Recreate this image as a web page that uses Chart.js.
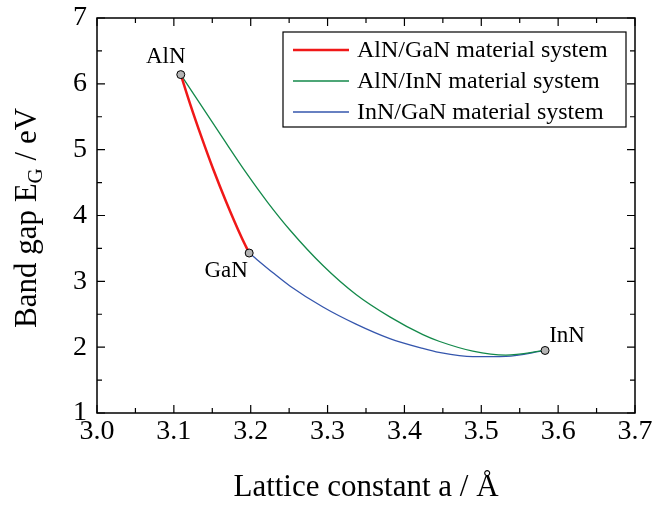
<!DOCTYPE html>
<html>
<head>
<meta charset="utf-8">
<script src="https://cdn.jsdelivr.net/npm/chart.js@4.4.1/dist/chart.umd.min.js"></script>
<style>
  body { margin: 0; background: #fff; }
  canvas { display: block; }
</style>
</head>
<body>
<canvas id="gapChart" width="656" height="507"></canvas>
<script>
// AlN/GaN branch (lattice constant, band gap)
const alGaX = [3.109, 3.121, 3.136, 3.151, 3.168, 3.188, 3.198];
const alGaY = [6.14, 5.70, 5.19, 4.71, 4.21, 3.67, 3.43];

// AlN/InN branch
const alInX = [3.109, 3.164, 3.194, 3.222, 3.251, 3.294, 3.337, 3.381, 3.424, 3.445, 3.489, 3.532, 3.583];
const alInY = [6.14, 5.17, 4.65, 4.20, 3.78, 3.24, 2.80, 2.46, 2.19, 2.09, 1.94, 1.88, 1.95];

// InN/GaN branch
const inGaX = [3.198, 3.229, 3.251, 3.294, 3.337, 3.381, 3.424, 3.445, 3.489, 3.532, 3.583];
const inGaY = [3.43, 3.13, 2.93, 2.61, 2.35, 2.13, 1.98, 1.92, 1.855, 1.86, 1.95];

// binary compounds
const binNames = ['AlN', 'GaN', 'InN'];
const binX = [3.109, 3.198, 3.583];
const binY = [6.14, 3.43, 1.95];
const binLabelDx = [-15, -23, 22];
const binLabelDy = [-18, 18, -15];

// axis ticks
const xTicks = [3.0, 3.1, 3.2, 3.3, 3.4, 3.5, 3.6, 3.7];
const yTicks = [1, 2, 3, 4, 5, 6, 7];

const serif = '"Liberation Serif", "Times New Roman", serif';
const toPoints = (xs, ys) => xs.map((x, i) => ({ x: x, y: ys[i] }));

// frame, inward ticks, legend, point labels and y title
const overlay = {
    id: 'overlay',
    afterDraw(chart) {
        const ctx = chart.ctx;
        const { left, right, top, bottom } = chart.chartArea;
        const xs = chart.scales.x;
        const ys = chart.scales.y;
        ctx.save();

        // frame
        ctx.strokeStyle = '#000';
        ctx.lineWidth = 1.5;
        ctx.strokeRect(left, top, right - left, bottom - top);

        // ticks pointing inward, on all four sides
        ctx.lineWidth = 1.2;
        ctx.beginPath();
        for (let i = 0; i <= 14; i++) {
            const px = xs.getPixelForValue(xs.min + i * 0.05);
            const len = i % 2 ? 5 : 8;
            ctx.moveTo(px, bottom); ctx.lineTo(px, bottom - len);
            ctx.moveTo(px, top); ctx.lineTo(px, top + len);
        }
        for (let i = 0; i <= 12; i++) {
            const py = ys.getPixelForValue(ys.min + i * 0.5);
            const len = i % 2 ? 5 : 8;
            ctx.moveTo(left, py); ctx.lineTo(left + len, py);
            ctx.moveTo(right, py); ctx.lineTo(right - len, py);
        }
        ctx.stroke();

        // point labels
        ctx.fillStyle = '#000';
        ctx.font = '23px ' + serif;
        ctx.textAlign = 'center';
        ctx.textBaseline = 'middle';
        binNames.forEach((name, i) => {
            const px = xs.getPixelForValue(binX[i]);
            const py = ys.getPixelForValue(binY[i]);
            ctx.fillText(name, px + binLabelDx[i], py + binLabelDy[i]);
        });

        // legend
        ctx.lineWidth = 1.2;
        ctx.strokeRect(283, 32, 343, 95);
        ctx.font = '24px ' + serif;
        ctx.textAlign = 'left';
        chart.data.datasets.filter(d => d.showLine !== false).forEach((d, i) => {
            const ly = 50 + i * 31;
            ctx.strokeStyle = d.borderColor;
            ctx.lineWidth = d.borderWidth;
            ctx.beginPath();
            ctx.moveTo(293, ly);
            ctx.lineTo(349, ly);
            ctx.stroke();
            ctx.fillText(d.label, 357, ly + 1);
        });

        // y axis title with subscript
        ctx.translate(36, 218);
        ctx.rotate(-Math.PI / 2);
        ctx.textBaseline = 'alphabetic';
        const big = '31px ' + serif;
        const small = '21px ' + serif;
        const partA = 'Band gap E';
        const partB = 'G';
        const partC = ' / eV';
        ctx.font = big;
        const wA = ctx.measureText(partA).width;
        const wC = ctx.measureText(partC).width;
        ctx.font = small;
        const wB = ctx.measureText(partB).width;
        let tx = -(wA + wB + wC) / 2;
        ctx.font = big;
        ctx.fillText(partA, tx, 0);
        tx += wA;
        ctx.font = small;
        ctx.fillText(partB, tx, 6);
        tx += wB;
        ctx.font = big;
        ctx.fillText(partC, tx, 0);

        ctx.restore();
    }
};

new Chart(document.getElementById('gapChart').getContext('2d'), {
    type: 'line',
    data: {
        datasets: [
            {
                label: 'binaries',
                data: toPoints(binX, binY),
                showLine: false,
                pointRadius: 4,
                pointBackgroundColor: '#b4b4b4',
                pointBorderColor: '#000',
                pointBorderWidth: 1,
                order: 0
            },
            {
                label: 'AlN/GaN material system',
                data: toPoints(alGaX, alGaY),
                borderColor: '#f01818',
                borderWidth: 2.5,
                pointRadius: 0,
                cubicInterpolationMode: 'monotone',
                order: 1
            },
            {
                label: 'AlN/InN material system',
                data: toPoints(alInX, alInY),
                borderColor: '#13894a',
                borderWidth: 1.3,
                pointRadius: 0,
                cubicInterpolationMode: 'monotone',
                order: 1
            },
            {
                label: 'InN/GaN material system',
                data: toPoints(inGaX, inGaY),
                borderColor: '#3556ad',
                borderWidth: 1.3,
                pointRadius: 0,
                cubicInterpolationMode: 'monotone',
                order: 1
            }
        ]
    },
    options: {
        responsive: false,
        animation: false,
        layout: { padding: { top: 18, right: 21, left: 0, bottom: 0 } },
        plugins: {
            legend: { display: false },
            tooltip: { enabled: false }
        },
        scales: {
            x: {
                type: 'linear',
                min: 3.0,
                max: 3.7,
                afterFit: s => { s.height = 94; s.paddingLeft = 0; s.paddingRight = 0; },
                afterBuildTicks: s => { s.ticks = xTicks.map(v => ({ value: v })); },
                ticks: {
                    callback: v => v.toFixed(1),
                    font: { family: serif, size: 28 },
                    color: '#000',
                    padding: 2,
                    maxRotation: 0,
                    autoSkip: false
                },
                grid: { display: false, drawTicks: false },
                border: { display: false },
                title: {
                    display: true,
                    text: 'Lattice constant a / Å',
                    font: { family: serif, size: 31 },
                    color: '#000',
                    padding: { top: 10, bottom: 1 }
                }
            },
            y: {
                type: 'linear',
                min: 1,
                max: 7,
                afterFit: s => { s.width = 97; s.paddingTop = 0; s.paddingBottom = 0; },
                afterBuildTicks: s => { s.ticks = yTicks.map(v => ({ value: v })); },
                ticks: {
                    font: { family: serif, size: 28 },
                    color: '#000',
                    padding: 10
                },
                grid: { display: false, drawTicks: false },
                border: { display: false }
            }
        }
    },
    plugins: [overlay]
});
</script>
</body>
</html>
